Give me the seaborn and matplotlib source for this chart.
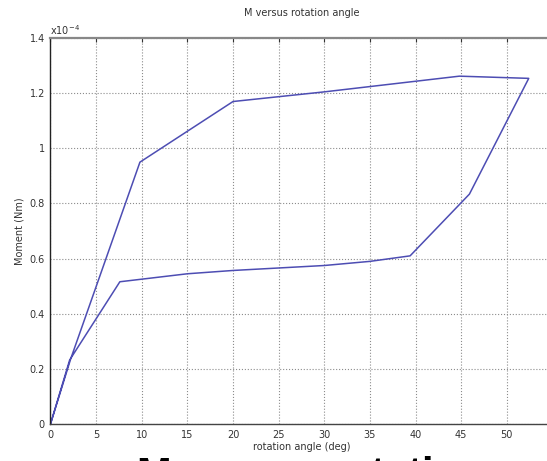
import numpy as np
import pandas as pd
import matplotlib
matplotlib.use('Agg')
import matplotlib.pyplot as plt
import matplotlib.ticker as mticker
import seaborn as sns

# %% Datos (momento en unidades de 1e-4 Nm)
angulo = [0.0, 2.2, 9.8, 20.0, 30.0, 44.8, 52.4, 45.9, 39.4, 35.0, 30.0, 20.0, 15.0, 7.6, 2.1, 0.0]
momento = [0.0, 0.235, 0.95, 1.17, 1.205, 1.262, 1.254, 0.834, 0.61, 0.59, 0.575, 0.557, 0.545, 0.516, 0.232, 0.0]

xticks = [0, 5, 10, 15, 20, 25, 30, 35, 40, 45, 50, 55]
yticks = [0, 0.2, 0.4, 0.6, 0.8, 1.0, 1.2, 1.4]

df = pd.DataFrame({'angulo': angulo, 'momento': momento})

# %% Figura
sns.set_style('white')
plt.rcParams['font.family'] = ['DejaVu Sans']

fig = plt.figure(figsize=(5.47, 4.61), dpi=100)
ax = fig.add_axes([0.0923, 0.0803, 0.9177, 0.837])

sns.lineplot(data=df, x='angulo', y='momento', sort=False, estimator=None,
             color='#4d4db3', linewidth=1.1, ax=ax)

ax.set_xlim(0, 55)
ax.set_ylim(0, 1.4)
ax.set_xticks(xticks)
ax.set_yticks(yticks)
ax.yaxis.set_major_formatter(mticker.FuncFormatter(lambda v, p: format(v, 'g')))
ax.tick_params(direction='in', length=3, labelsize=7, labelcolor='#333333',
               color='#333333', top=True, right=True, pad=4)
ax.grid(True, linestyle=':', color='#8c8c8c', linewidth=0.8)

ax.spines['left'].set_color('#222222')
ax.spines['bottom'].set_color('#444444')
ax.spines['top'].set_color('#888888')
ax.spines['top'].set_linewidth(1.6)
for s in ax.spines.values():
    if s is not ax.spines['top']:
        s.set_linewidth(1.0)

ax.set_xlabel('rotation angle (deg)', fontsize=7, color='#333333', labelpad=2)
ax.set_ylabel('Moment (Nm)', fontsize=7, color='#333333', labelpad=4)
ax.set_title('M versus rotation angle', fontsize=7, color='#333333', pad=16)

# multiplicador del eje y
ax.text(0.0, 1.004, 'x10$^{-4}$', transform=ax.transAxes, fontsize=7,
        color='#333333', ha='left', va='bottom')

# texto grande cortado al pie de la imagen (solo se ve la parte de arriba)
fig.text(0.25, 0.011, 'M versus rotation angle', fontsize=30, fontweight='bold',
         family=['Liberation Sans', 'DejaVu Sans'], color='black', ha='left', va='top')

fig.savefig('out.png', dpi=100)
